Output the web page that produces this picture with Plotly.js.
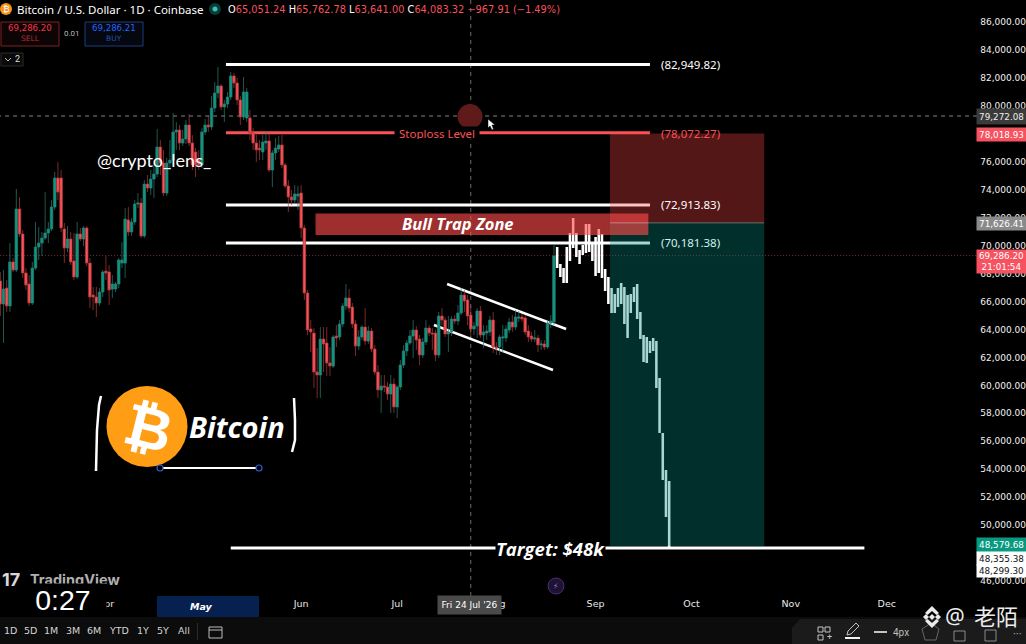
<!DOCTYPE html>
<html><head><meta charset="utf-8">
<script src="https://cdn.plot.ly/plotly-3.0.1.min.js"></script>
<style>html,body{margin:0;padding:0;background:#000;overflow:hidden}#c{width:1026px;height:644px}</style>
</head><body><div id="c"></div>
<script>
// Daily candles from 27 Feb 2026, prices in thousands of USD
const startDay = '2026-02-27';
const open=[67.47,65.82,66.96,65.68,68.83,68.25,72.62,70.83,68.04,67.25,65.89,68.39,69.90,70.18,70.54,70.90,71.19,72.76,74.84,74.84,71.19,69.83,70.47,68.90,67.75,70.83,70.47,71.26,68.75,66.46,66.32,65.89,66.68,68.18,68.11,66.89,66.89,67.25,68.75,68.75,71.83,70.97,71.69,72.97,73.05,70.69,74.40,74.12,74.76,75.12,77.05,75.91,73.76,75.91,76.12,78.13,78.27,77.34,77.63,78.63,77.34,76.70,76.12,75.77,78.13,78.63,78.49,79.84,80.92,81.42,79.92,80.13,80.63,82.14,81.63,80.42,79.20,79.13,79.13,78.06,77.34,76.98,76.70,77.34,77.49,75.41,76.63,76.91,77.20,75.77,74.27,73.48,73.26,73.55,73.76,71.26,66.61,64.03,63.74,60.95,60.74,63.31,63.03,61.60,61.38,63.53,63.46,64.39,65.68,66.25,65.60,64.39,62.81,63.46,64.17,63.17,63.89,62.60,60.95,59.67,59.95,59.88,59.38,60.09,58.45,59.88,61.45,62.46,63.03,63.53,63.96,63.31,62.17,63.10,64.10,63.74,63.74,62.17,64.96,64.67,63.67,63.82,64.74,64.60,65.18,66.46,66.11,65.03,64.03,64.24,65.32,63.60,63.74,63.82,64.67,62.74,62.74,63.39,63.39,63.96,64.53,64.17,64.81,64.89,64.82,63.89,63.53,63.31,63.39,62.89,62.96,62.74,64.46,64.53];
const high=[68.11,68.25,67.54,70.18,69.11,74.05,73.47,71.12,68.39,67.90,68.83,71.69,71.33,70.97,73.83,71.69,73.26,75.27,75.98,75.41,71.62,71.40,70.97,70.90,71.69,71.26,71.40,71.40,69.11,67.04,67.04,66.97,68.25,69.25,68.61,67.90,67.40,69.11,70.25,72.69,72.76,71.97,73.26,73.76,73.40,74.69,75.05,75.41,75.77,78.34,77.56,76.84,76.27,77.56,79.49,78.84,78.63,78.27,78.99,79.42,77.91,76.98,76.84,78.41,79.06,79.34,80.70,81.70,82.78,81.56,80.42,80.99,82.42,82.35,81.99,80.70,82.06,81.28,79.70,78.41,77.91,77.56,77.91,78.13,78.06,76.84,77.70,77.84,77.91,75.91,74.69,73.98,74.33,74.27,74.33,71.47,66.82,64.67,64.10,62.67,64.17,64.17,64.17,62.74,63.60,64.31,64.67,65.89,67.25,66.89,65.89,64.67,63.96,64.31,65.53,64.24,64.10,62.89,61.45,60.74,60.74,60.24,60.74,60.52,60.02,61.81,62.89,63.24,63.96,64.67,64.24,63.60,63.39,64.67,64.31,64.10,63.96,65.25,65.53,64.89,64.96,64.96,65.03,65.75,66.96,66.82,66.46,65.68,64.53,65.53,65.68,64.31,64.31,64.96,65.25,63.10,63.60,64.31,64.31,64.81,65.03,65.39,65.32,65.10,65.03,64.31,63.82,63.96,63.60,63.24,63.24,64.67,65.03,70.04];
const low=[64.96,63.03,65.25,65.25,68.11,68.11,70.62,67.68,66.82,65.68,65.75,68.25,68.97,69.25,70.40,70.18,71.04,72.55,73.26,70.97,68.75,69.54,68.61,67.54,67.61,70.33,69.97,68.54,65.53,65.39,64.89,65.68,66.32,67.54,65.75,66.25,66.68,66.96,68.39,67.68,70.69,70.69,71.47,72.69,70.54,70.54,73.83,73.62,73.40,74.91,75.05,73.55,73.55,75.41,75.77,76.84,76.84,77.12,77.27,77.12,75.41,74.91,75.41,75.55,77.91,78.13,78.27,79.56,80.56,79.70,78.84,79.84,80.42,81.28,80.06,78.63,78.99,78.84,77.56,76.84,75.98,76.12,76.12,76.84,75.27,74.19,76.12,76.70,75.55,74.12,72.40,72.90,73.05,72.55,70.54,66.11,63.60,62.38,59.81,59.09,59.09,60.95,60.67,60.67,61.24,62.74,63.24,64.17,65.39,65.25,64.10,62.10,62.53,63.24,62.89,62.96,62.38,60.74,59.09,58.02,59.52,58.95,58.02,58.02,57.66,59.67,61.24,62.10,62.89,61.95,62.53,61.45,61.95,62.89,63.53,62.53,61.74,61.95,64.31,63.46,62.38,63.53,64.39,64.31,65.03,65.25,64.31,63.46,63.60,63.39,63.39,62.67,63.24,63.53,62.31,62.17,62.17,62.31,63.10,63.74,63.82,63.96,64.53,64.53,63.60,63.10,63.10,63.10,62.38,62.53,62.53,62.60,64.10,64.31];
const close=[65.82,66.89,65.68,68.83,68.25,72.62,70.83,68.04,67.18,65.89,68.39,69.90,70.18,70.54,70.90,71.19,72.76,74.84,73.83,71.26,69.83,70.47,68.83,67.75,70.83,70.47,71.26,68.75,66.32,66.32,65.89,66.68,68.11,68.04,66.82,67.25,67.25,68.97,68.97,71.90,70.97,71.69,72.97,73.05,70.69,74.40,74.12,74.76,75.12,77.05,75.91,73.76,75.91,76.12,78.13,78.27,77.34,77.63,78.63,77.34,75.77,75.77,75.77,78.13,78.63,78.49,79.84,80.92,81.42,79.92,80.13,80.63,82.14,81.63,80.42,79.20,80.99,80.99,78.06,77.34,76.84,76.84,77.41,77.49,75.41,76.63,76.98,77.20,75.77,74.27,73.48,73.26,73.69,73.69,71.26,66.61,63.96,63.82,60.95,60.74,63.31,62.96,61.60,61.38,63.46,63.39,64.39,65.68,66.25,65.53,64.39,62.81,63.46,64.17,63.17,63.89,62.60,60.95,59.67,59.95,59.88,59.38,60.09,58.45,59.88,61.45,62.46,63.03,63.53,63.96,63.24,62.17,63.10,64.10,63.74,63.67,62.17,64.96,64.67,63.67,63.82,64.74,64.60,65.18,66.46,66.03,64.96,64.03,64.24,65.32,63.60,63.82,63.89,64.67,62.74,62.67,63.46,63.46,64.03,64.53,64.17,64.89,64.89,64.74,63.82,63.46,63.31,63.39,62.89,62.96,62.74,64.46,64.60,69.25];
// Projected path, drawn as plain white bars
const projTop=[69.90,68.68,68.39,69.90,70.90,71.97,70.90,69.68,70.04,71.54,71.54,70.26,70.61,71.19,70.83,68.32,67.75,66.96,66.53,66.96,67.32,67.04,66.46,66.53,67.04,67.25,65.25,63.60,63.46,63.17,63.39,63.17,60.52,56.59,53.94,53.15];
const projBottom=[68.39,67.75,67.32,67.32,68.90,69.83,69.18,68.68,69.33,69.47,69.54,68.90,67.82,68.04,67.68,66.75,65.82,65.18,65.18,65.61,65.82,64.39,63.39,65.18,65.96,64.74,63.31,61.67,61.60,62.31,62.46,59.81,56.59,53.22,50.58,48.43];

const yTicks=[46,48,50,52,54,56,58,60,62,64,66,68,70,72,74,76,78,80,82,84,86];
const monthTicks=['2026-03-01','2026-04-01','2026-06-01','2026-07-01','2026-08-01','2026-09-01','2026-10-01','2026-11-01','2026-12-01'];
const monthNames=['Mar','Apr','Jun','Jul','Aug','Sep','Oct','Nov','Dec'];
const levels=[82.94982,78.07227,72.91383,70.18138];
const levelText=['(82,949.82)','(78,072.27)','(72,913.83)','(70,181.38)'];
const targetLevel=48.36, boxFloor=48.5, entryLevel=71.62641, stopLevel=78.01893, zoneHigh=72.29, zoneLow=70.75;
const crossPrice=79.27208, lastPrice=69.2862;
const channelDays=[[139.6,176.8],[135.5,172.7]];
const channelPrices=[[67.25,64.03],[64.32,61.10]];

const W=1026,PH=596,HEAD="Roboto, 'Noto Sans', sans-serif";
const t0=Date.parse(startDay+'T00:00:00Z');
const day=i=>new Date(t0+i*864e5).toISOString().slice(0,19).replace('T',' ');
const dates=open.map((_,i)=>day(i));
const projDates=projTop.map((_,i)=>day(open.length+i));
const K=a=>a.map(v=>v*1000);
const X=p=>p/W, Y=p=>1-p/PH;

const candles={type:'candlestick',x:dates,open:K(open),high:K(high),low:K(low),close:K(close),
  whiskerwidth:0,hoverinfo:'skip',showlegend:false,
  increasing:{fillcolor:'#089981',line:{color:'#2c7c72',width:0.7}},
  decreasing:{fillcolor:'#fa5257',line:{color:'#b03a3e',width:0.7}}};
const proj={type:'candlestick',x:projDates,open:K(projBottom),close:K(projTop),high:K(projTop),low:K(projBottom),
  whiskerwidth:0,hoverinfo:'skip',showlegend:false,
  increasing:{fillcolor:'#ffffff',line:{color:'#ffffff',width:0.01}},
  decreasing:{fillcolor:'#ffffff',line:{color:'#ffffff',width:0.01}}};

const shapes=[],ann=[];
const hline=(d0,d1,price,color,w,dash,layer)=>shapes.push({type:'line',xref:'x',yref:'y',x0:d0,x1:d1,y0:price*1000,y1:price*1000,line:{color,width:w,dash:dash||'solid'},layer:layer||'below'});
const rectP=(x0,y0,x1,y1,fill,line,lw)=>shapes.push({type:'rect',xref:'paper',yref:'paper',x0:X(x0),x1:X(x1),y0:Y(y1),y1:Y(y0),fillcolor:fill||'rgba(0,0,0,0)',line:{color:line||'rgba(0,0,0,0)',width:lw||0},layer:'above'});
const poly=(pts,fill,line,lw,closed)=>shapes.push({type:'path',xref:'paper',yref:'paper',path:pts.map((p,i)=>(i?'L':'M')+X(p[0]).toFixed(5)+','+Y(p[1]).toFixed(5)).join(' ')+(closed?' Z':''),fillcolor:fill||'rgba(0,0,0,0)',line:{color:line||'rgba(0,0,0,0)',width:lw||0},layer:'above'});
const txt=(x,y,text,o)=>ann.push(Object.assign({xref:'paper',yref:'paper',x:X(x),y:Y(y),text,showarrow:false,xanchor:'center',yanchor:'middle',borderpad:0,font:{family:HEAD,size:11,color:'#fff'}},o||{}));
const font=(size,color,family)=>({size,color:color||'#fff',family:family||HEAD});

// crosshair + last price
hline(day(-1),day(310),crossPrice,'#858585',1,'4px,4px');
hline(day(-1),day(320),lastPrice,'#8a2a2a',1,'1px,2px');
shapes.push({type:'line',xref:'x',yref:'paper',x0:'2026-07-24',x1:'2026-07-24',y0:0,y1:1,line:{color:'#6a6a6a',width:1,dash:'4px,4px'},layer:'below'});

// drawn levels (under the position boxes, above candles)
const lvStart=day(70.5),lvEnd=day(203);
const lvColors=['#ffffff','#fa5257','#ffffff','#ffffff'];
levels.forEach((v,i)=>{
  shapes.push({type:'line',xref:'x',yref:'y',x0:lvStart,x1:lvEnd,y0:v*1000,y1:v*1000,line:{color:lvColors[i],width:3},layer:'between'});
});
channelDays.forEach((d,i)=>shapes.push({type:'line',xref:'x',yref:'y',x0:day(d[0]),x1:day(d[1]),y0:channelPrices[i][0]*1000,y1:channelPrices[i][1]*1000,line:{color:'#fff',width:2.5},layer:'between'}));

// position boxes and zone
const boxA=day(190.5),boxB=day(238.7);
shapes.push({type:'rect',xref:'x',yref:'y',x0:boxA,x1:boxB,y0:entryLevel*1000,y1:stopLevel*1000,fillcolor:'rgba(255,70,70,0.33)',line:{width:0},layer:'above'});
shapes.push({type:'rect',xref:'x',yref:'y',x0:boxA,x1:boxB,y0:boxFloor*1000,y1:entryLevel*1000,fillcolor:'rgba(3,136,125,0.345)',line:{width:0},layer:'above'});
shapes.push({type:'rect',xref:'x',yref:'y',x0:day(98.5),x1:day(202.5),y0:zoneLow*1000,y1:zoneHigh*1000,fillcolor:'rgba(255,76,75,0.62)',line:{width:0},layer:'above'});
shapes.push({type:'line',xref:'x',yref:'y',x0:boxA,x1:boxB,y0:entryLevel*1000,y1:entryLevel*1000,line:{color:'rgba(255,255,255,0.35)',width:1},layer:'above'});
hline(day(72),day(270),targetLevel,'#fff',3,'solid','above');

// level labels
[65,133,205,243].forEach((y,i)=>txt(660,y,levelText[i],{xanchor:'left',font:font(11.5,['#fff','#fa5257','#fff','#d5efec'][i],"'Noto Sans', sans-serif")}));
txt(437,133,'Stoploss Level',{font:font(11.5,'#fa5257',"'Noto Sans', sans-serif"),bgcolor:'#000',width:84,height:12});
txt(458,223,'<b><i>Bull Trap Zone</i></b>',{font:font(16.5,'#fff',"'Open Sans', sans-serif")});
txt(550,548,'<b><i>Target: $48k</i></b>',{font:font(18.5,'#fff',"'Open Sans', sans-serif"),bgcolor:'#000'});
txt(154,160.5,'@crypto_lens_',{font:font(18,'#fff',"Lato, sans-serif")});

// crosshair marker
shapes.push({type:'circle',xref:'paper',yref:'paper',x0:X(457.5),x1:X(482.5),y0:Y(129),y1:Y(104),fillcolor:'#5f1a1a',line:{width:0},layer:'above'});
poly([[488,119],[488,128],[490,126],[492,130],[493.5,129],[492,125],[495,125]],'#fff','#000',0.5,true);

// Bitcoin badge
shapes.push({type:'circle',xref:'paper',yref:'paper',x0:X(106.5),x1:X(187.5),y0:Y(467),y1:Y(386),fillcolor:'#ff9d14',line:{width:0},layer:'above'});
txt(148,428,'<b>₿</b>',{textangle:14,font:font(58,'#fff',"'DejaVu Sans', sans-serif")});
txt(236.5,426,'<b><i>Bitcoin</i></b>',{font:font(29,'#fff',"'Noto Sans', sans-serif")});
poly([[101,396],[99,405],[97,430],[96,471]],null,'#fff',2.5);
poly([[294,398],[295,420],[295,440],[292,452]],null,'#fff',2.5);
shapes.push({type:'line',xref:'paper',yref:'paper',x0:X(163),x1:X(256),y0:Y(468),y1:Y(468),line:{color:'#fff',width:2},layer:'above'});
[160,259].forEach(x=>shapes.push({type:'circle',xref:'paper',yref:'paper',x0:X(x-3),x1:X(x+3),y0:Y(471),y1:Y(465),fillcolor:'#000',line:{color:'#2a5fd0',width:1.2},layer:'above'}));

// header
shapes.push({type:'circle',xref:'paper',yref:'paper',x0:X(0),x1:X(12),y0:Y(15),y1:Y(3),fillcolor:'#f7931a',line:{width:0},layer:'above'});
txt(6,9,'₿',{font:font(9,'#fff',"'DejaVu Sans', sans-serif")});
txt(16,9.5,'Bitcoin / U.S. Dollar · 1D · Coinbase',{xanchor:'left',font:font(11.5,'#fff',"'Noto Sans', sans-serif")});
shapes.push({type:'circle',xref:'paper',yref:'paper',x0:X(209),x1:X(221),y0:Y(15),y1:Y(3),fillcolor:'#0a3b37',line:{width:0},layer:'above'});
shapes.push({type:'circle',xref:'paper',yref:'paper',x0:X(212.5),x1:X(217.5),y0:Y(11.5),y1:Y(6.5),fillcolor:'#2ec4b6',line:{width:0},layer:'above'});
const R=s=>`<span style="color:#f7525f">${s}</span>`;
txt(227,9.5,'O'+R('65,051.24')+' H'+R('65,762.78')+' L'+R('63,641.00')+' C'+R('64,083.32')+' '+R('−967.91 (−1.49%)'),{xanchor:'left',font:font(9.8,'#fff',"'DejaVu Sans', sans-serif")});
rectP(1,22,59,46,'#0d0505','#7a2226',1);
txt(30,28.5,'69,286.20',{font:font(8.6,'#f23645',"'DejaVu Sans', sans-serif")});
txt(30,38.5,'SELL',{font:font(7.5,'#b52c35',"'DejaVu Sans', sans-serif")});
txt(72,34,'0.01',{font:font(8,'#b8b8b8')});
rectP(85,22,143,46,'#05080f','#1d3c78',1);
txt(114,28.5,'69,286.21',{font:font(8.6,'#2962ff',"'DejaVu Sans', sans-serif")});
txt(114,38.5,'BUY',{font:font(7.5,'#2450ad',"'DejaVu Sans', sans-serif")});
rectP(1,53,23,66,'#0a0a0a','#2a2a2a',1);
poly([[5,58],[8,61],[11,58]],null,'#bbb',1);
txt(17,59.5,'2',{font:font(9,'#ddd')});

// price tags
const tag=(y0,y1,text,bg,col)=>txt(1001.5,(y0+y1)/2,text,{width:49,height:y1-y0,bgcolor:bg,font:font(8.8,col,"'DejaVu Sans', sans-serif")});
tag(109,124,'79,272.08','#3b3b3b','#eee');
tag(128,141,'78,018.93','#f7525f','#fff');
tag(217,230,'71,626.41','#8a8a8a','#fff');
tag(250,273,'69,286.20<br>21:01:54','#f7525f','#fff');
tag(538,552,'48,579.68','#089981','#fff');
tag(552,565,'48,355.38','#fff','#111');
tag(565,577,'48,299.30','#fff','#111');

// TradingView, timer, axis highlights
txt(1,579,'<b>17</b>',{xanchor:'left',font:font(18,'#d8d8d8',"Inter, sans-serif")});
txt(29,579,'<b>TradingView</b>',{xanchor:'left',font:font(14.5,'#b0b0b0',"Inter, sans-serif")});
shapes.push({type:'circle',xref:'paper',yref:'paper',x0:X(548),x1:X(564),y0:Y(594),y1:Y(578),fillcolor:'#1f1430',line:{color:'#4b2a80',width:1},layer:'above'});
txt(556,586,'⚡',{font:font(8,'#9a6cff',"'DejaVu Sans', sans-serif")});
rectP(157,596,259,617,'#06204f');
txt(201,606.5,'<b><i>May</i></b>',{font:font(9.5,'#fff',"'DejaVu Sans', sans-serif")});
txt(469.5,605,'Fri 24 Jul \'26',{width:63,height:18,bgcolor:'#4a4a4a',font:font(9,'#fff',"'DejaVu Sans', sans-serif")});
txt(63,600,'0:27',{width:86,height:32,bgcolor:'#000',font:font(28.5,'#fff',"'Liberation Sans', sans-serif")});

// bottom toolbar
rectP(0,617,1026,644,'#0c0c0c');
[['1D',10],['5D',30],['1M',51],['3M',73],['6M',94],['YTD',119],['1Y',143],['5Y',163],['All',184]].forEach(a=>txt(a[1],630.5,a[0],{font:font(9.5,'#d5d5d5',"'DejaVu Sans', sans-serif")}));
rectP(197,623,198,640,'#2b2b2b');
rectP(209,627,222,638,null,'#bbb',1);
shapes.push({type:'line',xref:'paper',yref:'paper',x0:X(209),x1:X(222),y0:Y(630),y1:Y(630),line:{color:'#bbb',width:1},layer:'above'});
poly([[792,644],[792,628],[800,619],[1026,619],[1026,644]],'#1b1b1b',null,0,true);
[[818,627],[825,627],[818,635]].forEach(p=>rectP(p[0],p[1],p[0]+5,p[1]+5,null,'#c5c5c5',1));
txt(829,637,'+',{font:font(9,'#c5c5c5')});
poly([[847,635],[848,631],[856,623],[859,626],[851,634]],null,'#c5c5c5',1,true);
rectP(845,637,860,639,'#f2f2f2');
rectP(874,631,887,633,'#c5c5c5');
txt(901,632,'4px',{font:font(10,'#bdbdbd')});
poly([[922,629],[931,623],[939,629],[936,640],[925,640]],null,'#666',1,true);
rectP(954,631,965,641,null,'#8a8a8a',1);
rectP(985,630,996,641,null,'#8a8a8a',1);
txt(1017,634,'···',{font:font(11,'#bbb')});
const dia=(cx,cy,r)=>poly([[cx,cy-r],[cx+r,cy],[cx,cy+r],[cx-r,cy]],'#ececec',null,0,true);
dia(926,617,3);dia(938,617,3);dia(932,617,3);
poly([[932,606],[939,613],[936.5,615],[932,611],[927.5,615],[925,613]],'#ececec',null,0,true);
poly([[932,628],[939,621],[936.5,619],[932,623],[927.5,619],[925,621]],'#ececec',null,0,true);
txt(955,615,'@',{font:font(22,'#ececec',"'Noto Sans', sans-serif")});
txt(996,615,'老陌',{font:font(22,'#ececec',"'Noto Sans CJK SC', sans-serif")});

const layout={width:W,height:644,margin:{l:0,r:0,t:0,b:48,pad:0},paper_bgcolor:'#000',plot_bgcolor:'#000',
  showlegend:false,boxgap:0.2,boxgroupgap:0,
  xaxis:{type:'date',range:[day(-0.1),day(320.5)],rangeslider:{visible:false},showgrid:false,zeroline:false,showline:false,
    tickmode:'array',tickvals:monthTicks,ticktext:monthNames,ticks:'',ticklen:0,tickfont:{size:9.5,color:'#e8e8e8',family:"'DejaVu Sans', sans-serif"}},
  yaxis:{side:'right',range:[44927,87574],showgrid:false,zeroline:false,showline:false,ticks:'',ticklabelposition:'inside',ticklabelstandoff:-3,
    tickmode:'array',tickvals:K(yTicks),tickformat:',.2f',tickfont:{size:9,color:'#f2f2f2',family:"'DejaVu Sans', sans-serif"}},
  shapes,annotations:ann,font:{family:HEAD}};
Plotly.newPlot('c',[candles,proj],layout,{displayModeBar:false,staticPlot:true});
</script></body></html>
